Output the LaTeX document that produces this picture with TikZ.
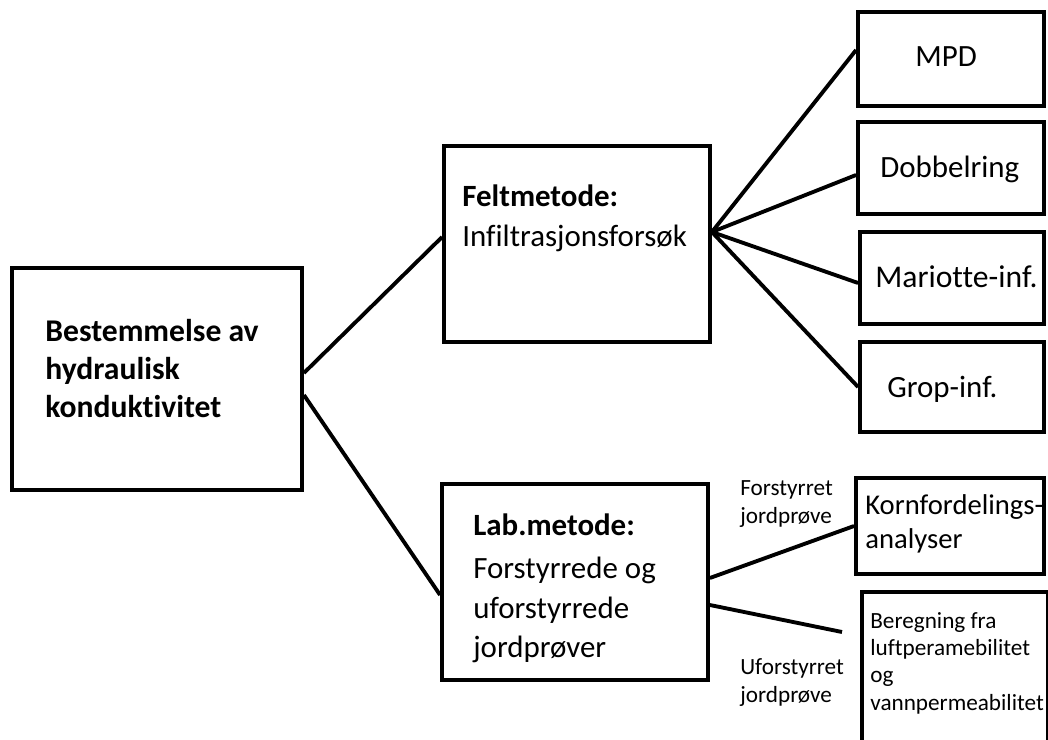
\documentclass[tikz,border=0pt]{standalone}
\usepackage{fontspec}
\setmainfont[Ligatures={NoCommon}]{Carlito}

\begin{document}
\begin{tikzpicture}[x=0.02cm,y=-0.02cm,
    box/.style={draw, line width=2.2pt, inner sep=0pt},
    con/.style={line width=2.2pt},
    txt/.style={anchor=base west, align=left, inner sep=0pt, font=\fontsize{17.6}{22.2}\selectfont},
    head/.style={txt, font=\fontsize{18}{21.6}\selectfont\bfseries},
    small/.style={anchor=base west, align=left, inner sep=0pt, font=\fontsize{13.2}{15.4}\selectfont}]
    \clip (0,0) rectangle (1048,740);
    % boxes
    \node[box, minimum width=5.8cm, minimum height=4.44cm] (hyd) at (157,379) {};
    \node[box, minimum width=5.32cm, minimum height=3.92cm] (felt) at (577,244) {};
    \node[box, minimum width=5.32cm, minimum height=3.92cm] (lab) at (575,582) {};
    \node[box, minimum width=3.72cm, minimum height=1.88cm] (mpd) at (951,59) {};
    \node[box, minimum width=3.72cm, minimum height=1.84cm] (dob) at (951,168) {};
    \node[box, minimum width=3.68cm, minimum height=1.84cm] (mar) at (952,278) {};
    \node[box, minimum width=3.68cm, minimum height=1.8cm] (grop) at (952,387) {};
    \node[box, minimum width=3.76cm, minimum height=1.92cm] (korn) at (950,526) {};
    \node[box, minimum width=3.72cm, minimum height=3.6cm, anchor=north west] (ber) at (860,590) {};
    % texts (anchored at the baseline of the last line)
    \node[head] (hydtxt) at (45,417) {Bestemmelse av\\hydraulisk\\konduktivitet};
    \node[txt] (felttxt) at (462,246) {\textbf{Feltmetode:}\\Infiltrasjonsforsøk};
    \node[txt] (labtxt) at (473,657) {\textbf{Lab.metode:}\\[0.08cm]Forstyrrede og\\uforstyrrede\\jordprøver};
    \node[txt] (mpdtxt) at (915,67) {MPD};
    \node[txt] (dobtxt) at (880,177) {Dobbelring};
    \node[txt, font=\fontsize{18}{22}\selectfont] (martxt) at (875,287) {Mariotte-inf.};
    \node[txt] (groptxt) at (887,397) {Grop-inf.};
    \node[txt, font=\fontsize{16.3}{18.8}\selectfont] (korntxt) at (865,548) {Kornfordelings-\\analyser};
    \node[small] (bertxt) at (870,710) {Beregning fra\\luftperamebilitet\\og\\vannpermeabilitet};
    \node[small] (forst) at (740,523) {Forstyrret\\jordprøve};
    \node[small] (uforst) at (740,702) {Uforstyrret\\jordprøve};
    % connectors
    \coordinate (berend) at (842,632);
    \draw[con] ([yshift=0.12cm]hyd.east) -- ([yshift=0.14cm]felt.west);
    \draw[con] ([yshift=-0.32cm]hyd.east) -- ([yshift=-0.26cm]lab.west);
    \draw[con] ([yshift=0.24cm]felt.east) -- ([yshift=0.18cm]mpd.west);
    \draw[con] ([yshift=0.24cm]felt.east) -- ([yshift=-0.14cm]dob.west);
    \draw[con] ([yshift=0.24cm]felt.east) -- ([yshift=-0.1cm]mar.west);
    \draw[con] ([yshift=0.24cm]felt.east) -- (grop.west);
    \draw[con] ([yshift=0.08cm]lab.east) -- (korn.west);
    \draw[con] ([yshift=-0.46cm]lab.east) -- (berend);
\end{tikzpicture}
\end{document}
